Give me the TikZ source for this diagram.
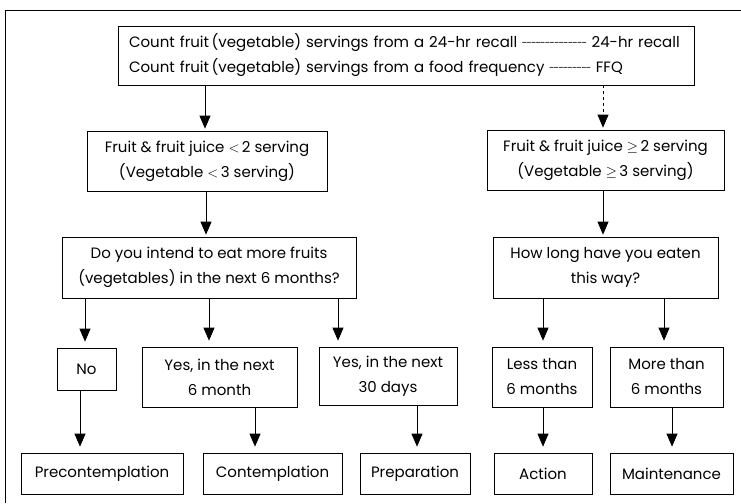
\documentclass[tikz,border=0pt]{standalone}
\usepackage{fontspec}
\setmainfont{Poppins}
\usetikzlibrary{arrows.meta,positioning}
\tikzset{
  qbox/.style={draw,line width=0.7pt,align=center,inner sep=0pt,font=\fontsize{15}{25}\selectfont},
  stagebox/.style={qbox,minimum height=41pt},
  arrow/.style={-{Triangle[length=13pt,width=11pt]},line width=0.7pt,shorten >=2pt}
}
\newcommand{\dashrun}[1]{\foreach\k in {1,...,#1}{\hbox to 4.6pt{\hss\raisebox{1.3pt}{\fontsize{10}{10}\selectfont-}\hss}}}

\begin{document}
\begin{tikzpicture}[x=1pt,y=-1pt]
  \useasboundingbox (0,0) rectangle (741,503);
  % frame
  \draw[line width=0.7pt] (741,10) -- (5,10) -- (5,503);

  % source of the counts
  \node[qbox,align=left,text width=554pt,inner xsep=11pt,minimum height=59pt] (count) at (406,55.5)
    {Count fruit\,(vegetable) servings from a 24-hr recall \dashrun{14} 24-hr recall\\
     Count fruit\,(vegetable) servings from a food frequency \dashrun{9} FFQ};

  % servings
  \node[qbox,minimum width=240pt,minimum height=60pt] (low) at (207,161)
    {Fruit \& fruit juice $<$\,2 serving\\(Vegetable $<$\,3 serving)};
  \node[qbox,minimum width=237pt,minimum height=60pt] (high) at (605.5,160)
    {Fruit \& fruit juice $\geq$\,2 serving\\(Vegetable $\geq$\,3 serving)};

  % questions
  \node[qbox,minimum width=294pt,minimum height=61pt] (intend) at (209,267.5)
    {Do you intend to eat more fruits\\(vegetables) in the next 6 months?};
  \node[qbox,minimum width=225pt,minimum height=61pt] (howlong) at (605.5,267.5)
    {How long have you eaten\\this way?};

  % answers
  \node[qbox,minimum width=59pt,minimum height=42pt] (no) at (86.5,369) {No};
  \node[qbox,minimum width=155pt,minimum height=60pt] (yes6) at (219.5,377) {Yes, in the next\\6 month};
  \node[qbox,minimum width=138pt,minimum height=58pt] (yes30) at (388,376) {Yes, in the next\\30 days};
  \node[qbox,minimum width=100pt,minimum height=60pt] (less) at (542,377) {Less than\\6 months};
  \node[qbox,minimum width=113pt,minimum height=60pt] (more) at (666.5,377) {More than\\6 months};

  % stages
  \node[stagebox,minimum width=162pt] (precon) at (102,473.5) {Precontemplation};
  \node[stagebox,minimum width=139pt] (contemp) at (272.5,473.5) {Contemplation};
  \node[stagebox,minimum width=110pt] (prep) at (415,473.5) {Preparation};
  \node[stagebox,minimum width=98pt] (action) at (543,473.5) {Action};
  \node[stagebox,minimum width=123pt] (maint) at (671.5,473.5) {Maintenance};

  \draw[arrow] (count.south -| 205,0) -- (low.north -| 205,0);
  \draw[arrow,dashed] (count.south -| 603,0) -- (high.north -| 603,0);
  \draw[arrow] (low.south -| 206,0) -- (intend.north -| 206,0);
  \draw[arrow] (high.south -| 603,0) -- (howlong.north -| 603,0);

  \draw[arrow,shorten >=6pt] (intend.south -| 85,0) -- (no.north -| 85,0);
  \draw[arrow,shorten >=6pt] (intend.south -| 209,0) -- (yes6.north -| 209,0);
  \draw[arrow,shorten >=6pt] (intend.south -| 338,0) -- (yes30.north -| 338,0);
  \draw[arrow,shorten >=6pt] (howlong.south -| 543,0) -- (less.north -| 543,0);
  \draw[arrow,shorten >=6pt] (howlong.south -| 664,0) -- (more.north -| 664,0);

  \draw[arrow,shorten >=6pt] (no.south -| 80,0) -- (precon.north -| 80,0);
  \draw[arrow,shorten >=6pt] (yes6.south -| 255,0) -- (contemp.north -| 255,0);
  \draw[arrow,shorten >=6pt] (yes30.south -| 417,0) -- (prep.north -| 417,0);
  \draw[arrow,shorten >=6pt] (less.south -| 543,0) -- (action.north -| 543,0);
  \draw[arrow,shorten >=6pt] (more.south -| 672,0) -- (maint.north -| 672,0);
\end{tikzpicture}
\end{document}
